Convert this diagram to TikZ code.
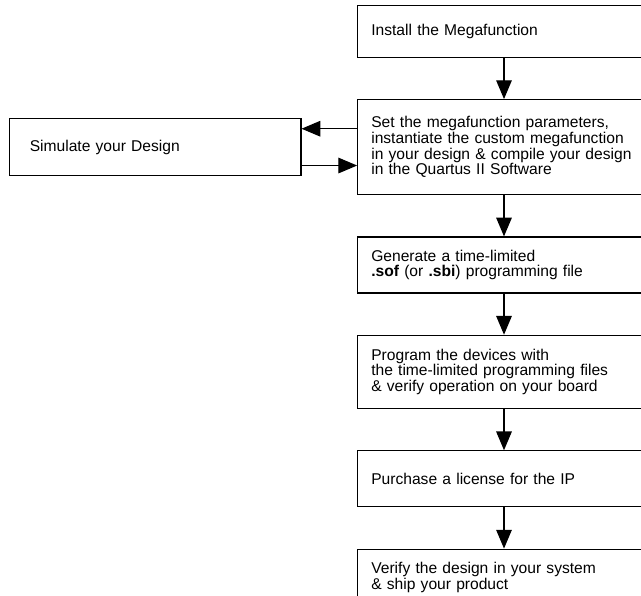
\documentclass[tikz,border=0pt]{standalone}
\usepackage{fontspec}
\setmainfont{Liberation Sans}
\usepackage{tikz}
\usetikzlibrary{positioning,arrows.meta}

\begin{document}
\begin{tikzpicture}[node distance=1.03cm and 1.39cm, >={Triangle[length=0.47cm, width=0.39cm]}, line width=0.8pt,
        stepbox/.style={draw, rectangle, minimum width=7.315cm, text width=6.635cm, inner xsep=0.34cm, inner ysep=0pt, align=left, font=\fontsize{11.1pt}{11.2pt}\selectfont}]
        % Page frame, the boxes run past its right edge
        \useasboundingbox (0,0) rectangle (16.025,-14.9);
        \clip (0,0) rectangle (16.025,-14.9);

        % Main flow of steps
        \node[stepbox, minimum height=1.3cm] (inst) at (12.6,-0.7825) {Install the Megafunction};
        \node[stepbox, minimum height=2.375cm, below=of inst] (set) {Set the megafunction parameters,\\ instantiate the custom megafunction\\ in your design \& compile your design\\ in the Quartus II Software};
        \node[stepbox, minimum height=1.4cm, below=of set] (gen) {Generate a time-limited\\ \textbf{.sof} (or \textbf{.sbi}) programming file};
        \node[stepbox, minimum height=1.83cm, below=of gen] (prog) {Program the devices with\\ the time-limited programming files\\ \& verify operation on your board};
        \node[stepbox, minimum height=1.4cm, below=of prog] (buy) {Purchase a license for the IP};
        \node[stepbox, minimum height=1.4cm, below=of buy] (ship) {Verify the design in your system\\ \& ship your product};

        % Side box for simulation
        \node[stepbox, minimum width=7.28cm, minimum height=1.41cm, text width=6.28cm, inner xsep=0.5cm, left=of set] (sim) {Simulate your Design};

        \foreach \a/\b in {inst/set, set/gen, gen/prog, prog/buy, buy/ship}
            \draw[->] (\a) -- (\b);

        \draw[->] ([yshift=0.46cm]set.west) -- ([yshift=0.46cm]sim.east);
        \draw[->] ([yshift=-0.46cm]sim.east) -- ([yshift=-0.46cm]set.west);
    \end{tikzpicture}
\end{document}
